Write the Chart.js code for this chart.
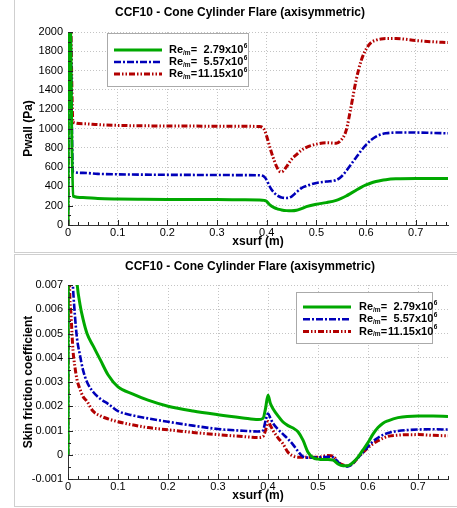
<!DOCTYPE html>
<html>
<head>
<meta charset="utf-8">
<script src="https://cdn.jsdelivr.net/npm/chart.js@4.4.0/dist/chart.umd.min.js"></script>
<style>
  body { margin: 0; background: #fff; overflow: hidden; }
  .frame { position: absolute; left: 14px; width: 470px; border-left: 1px solid #cfcfcf; }
  #f1 { top: 0; height: 252px; border-bottom: 1px solid #cfcfcf; }
  #f2 { top: 254px; height: 251px; border-top: 1px solid #cfcfcf; border-bottom: 1px solid #cfcfcf; }
  canvas { position: absolute; left: 0; }
  #pwall { top: 0; }
  #skin { top: 254px; }
</style>
</head>
<body>
<div class="frame" id="f1"></div>
<div class="frame" id="f2"></div>
<canvas id="pwall" width="500" height="252"></canvas>
<canvas id="skin" width="500" height="252"></canvas>
<script>
// Reynolds numbers per metre (x10^6) for the three runs
const reValues = ['2.79', '5.57', '11.15'];

// Wall pressure (Pa) along the surface
const xPwall = [0, 0.002, 0.01, 0.03, 0.06, 0.1, 0.15, 0.2, 0.25, 0.3, 0.35, 0.385, 0.395, 0.4, 0.405, 0.41, 0.415, 0.42, 0.425, 0.43,
  0.44, 0.45, 0.46, 0.47, 0.48, 0.5, 0.52, 0.54, 0.55, 0.56, 0.57, 0.58, 0.59, 0.6, 0.61, 0.62, 0.63, 0.64, 0.66, 0.7, 0.73, 0.765];
const pwall279 = [0, 3000, 300, 285, 275, 270, 267, 265, 264, 263, 262, 260, 255, 245, 215, 195, 180, 170, 162, 156,
  149, 147, 152, 170, 190, 215, 232, 255, 275, 300, 330, 360, 390, 415, 435, 450, 462, 470, 478, 482, 482, 481];
const pwall557 = [0, 3000, 550, 540, 530, 525, 522, 520, 519, 518, 517, 515, 500, 466, 410, 365, 335, 310, 295, 285,
  280, 295, 340, 383, 405, 436, 450, 466, 500, 560, 630, 700, 770, 830, 880, 915, 938, 950, 958, 958, 955, 950];
const pwall1115 = [0, 3000, 1065, 1050, 1040, 1032, 1028, 1026, 1025, 1024, 1023, 1020, 990, 920, 830, 745, 670, 605, 560, 550,
  605, 680, 730, 775, 805, 838, 852, 848, 880, 980, 1230, 1500, 1700, 1820, 1890, 1915, 1928, 1932, 1932, 1912, 1900, 1890];

// Skin friction coefficient along the surface
const xSkin = [0, 0.001, 0.003, 0.006, 0.008, 0.01, 0.014, 0.018, 0.024, 0.03, 0.038, 0.05, 0.065, 0.08, 0.1, 0.13, 0.16, 0.2,
  0.25, 0.3, 0.35, 0.38, 0.39, 0.395, 0.4, 0.405, 0.41, 0.42, 0.43, 0.44, 0.45, 0.46, 0.47, 0.48, 0.49, 0.5, 0.51, 0.52, 0.53,
  0.54, 0.55, 0.56, 0.57, 0.58, 0.59, 0.6, 0.61, 0.62, 0.63, 0.64, 0.66, 0.7, 0.73, 0.76];
const skin279 = [0, 0.03, 0.02, 0.014, 0.012, 0.0105, 0.0085, 0.0071, 0.0062, 0.0056, 0.005, 0.0045, 0.0039, 0.0033, 0.0028, 0.0025, 0.00225, 0.002,
  0.0018, 0.00165, 0.00152, 0.00145, 0.0015, 0.0019, 0.00245, 0.0021, 0.0019, 0.0016, 0.00135, 0.0012, 0.0011, 0.00095, 0.0006, 0.0001, -0.00012, -0.00018, -0.0002, -0.0002, -0.00022,
  -0.00038, -0.00045, -0.00045, -0.00032, -0.0001, 0.0002, 0.0005, 0.00085, 0.00112, 0.0013, 0.0014, 0.00153, 0.0016, 0.0016, 0.00158];
const skin557 = [0, 0.02, 0.012, 0.0085, 0.0078, 0.0069, 0.0057, 0.0048, 0.0041, 0.0035, 0.003, 0.0026, 0.0023, 0.0021, 0.0018, 0.00162, 0.0015, 0.00136,
  0.0012, 0.00106, 0.00099, 0.00096, 0.001, 0.0014, 0.0017, 0.0015, 0.0013, 0.00105, 0.00085, 0.00065, 0.00042, 0.00014, -0.00008, -0.00012, -0.00012, -0.0001, -0.0001, -0.00008, -0.0001,
  -0.0003, -0.00045, -0.00048, -0.00035, -0.00012, 0.0001, 0.00034, 0.00055, 0.0007, 0.00082, 0.0009, 0.00098, 0.00104, 0.00105, 0.00104];
const skin1115 = [0, 0.012, 0.0072, 0.0058, 0.005, 0.0043, 0.0036, 0.0031, 0.0027, 0.0024, 0.0022, 0.0018, 0.0016, 0.00148, 0.00136, 0.00123, 0.00112, 0.00103,
  0.00092, 0.00083, 0.00075, 0.00071, 0.00075, 0.001, 0.00137, 0.0012, 0.001, 0.0007, 0.00045, 0.0001, -0.00005, -0.0001, -0.0001, -0.0001, -0.0001, -0.0001, -0.00006, -0.00003, -0.00006,
  -0.0003, -0.00042, -0.00046, -0.00035, -0.00012, 0.0001, 0.00029, 0.00045, 0.00058, 0.00068, 0.00076, 0.00081, 0.00083, 0.0008, 0.00078];

const FONT = 'Arial, "Liberation Sans", sans-serif';
const titleText = 'CCF10 - Cone Cylinder Flare (axisymmetric)';

const lineStyles = [
  { borderColor: 'rgb(0,168,0)', borderWidth: 3, borderDash: [] },
  { borderColor: 'rgb(0,0,185)', borderWidth: 2.6, borderDash: [7, 2, 2, 2] },
  { borderColor: 'rgb(178,0,0)', borderWidth: 3, borderDash: [6, 2, 1.5, 2, 1.5, 2] }
];

function makeDatasets(xs, series) {
  return series.map((ys, i) => ({
    label: 'Re/m=' + reValues[i] + 'x10^6',
    data: xs.map((x, k) => ({ x: x, y: ys[k] })),
    ...lineStyles[i],
    pointRadius: 0,
    fill: false,
    cubicInterpolationMode: 'monotone'
  }));
}

// inward major/minor tick marks on the left and bottom axes
const tickMarks = {
  id: 'tickMarks',
  afterDatasetsDraw(chart, args, opts) {
    const { ctx, chartArea, scales: { x, y } } = chart;
    ctx.save();
    ctx.strokeStyle = '#222';
    ctx.lineWidth = 1;
    ctx.beginPath();
    const nx = Math.floor((x.max - x.min) / opts.xMinor + 1e-6);
    for (let i = 0; i <= nx; i++) {
      const px = Math.round(x.getPixelForValue(x.min + i * opts.xMinor)) + 0.5;
      const len = i % opts.xEvery === 0 ? 5 : 3;
      ctx.moveTo(px, chartArea.bottom);
      ctx.lineTo(px, chartArea.bottom - len);
    }
    const ny = Math.round((y.max - y.min) / opts.yMinor);
    for (let i = 0; i <= ny; i++) {
      const py = Math.round(y.getPixelForValue(y.min + i * opts.yMinor)) + 0.5;
      const len = i % opts.yEvery === 0 ? 5 : 3;
      ctx.moveTo(chartArea.left, py);
      ctx.lineTo(chartArea.left + len, py);
    }
    ctx.stroke();
    ctx.restore();
  }
};

// boxed legend with Re sub/superscripts
const reLegend = {
  id: 'reLegend',
  afterDraw(chart, args, opts) {
    const { ctx, chartArea } = chart;
    const big = 'bold 11px ' + FONT, small = 'bold 6.5px ' + FONT;
    const bx = Math.round(chartArea.left + opts.dx), by = Math.round(chartArea.top + opts.dy);
    ctx.save();
    ctx.fillStyle = '#fff';
    ctx.fillRect(bx, by, opts.w, opts.h);
    ctx.strokeStyle = '#aaa';
    ctx.lineWidth = 1;
    ctx.strokeRect(bx + 0.5, by + 0.5, opts.w, opts.h);
    ctx.font = big;
    const wRe = ctx.measureText('Re').width, wEq = ctx.measureText('=').width;
    const wNum = Math.max(...reValues.map(v => ctx.measureText(v + 'x10').width));
    ctx.font = small;
    const wSub = ctx.measureText('/m').width;
    const numEnd = bx + opts.textX + wRe + wSub + wEq + wNum + 1;
    chart.data.datasets.forEach((ds, i) => {
      const ly = by + opts.row0 + i * opts.rowGap;
      ctx.strokeStyle = ds.borderColor;
      ctx.lineWidth = ds.borderWidth;
      ctx.setLineDash(ds.borderDash);
      ctx.beginPath();
      ctx.moveTo(bx + 7, ly);
      ctx.lineTo(bx + 55, ly);
      ctx.stroke();
      ctx.setLineDash([]);
      ctx.fillStyle = '#000';
      ctx.textBaseline = 'middle';
      ctx.textAlign = 'left';
      let tx = bx + opts.textX;
      ctx.font = big;
      ctx.fillText('Re', tx, ly);
      tx += wRe;
      ctx.font = small;
      ctx.fillText('/m', tx, ly + 3);
      tx += wSub;
      ctx.font = big;
      ctx.fillText('=', tx, ly);
      ctx.textAlign = 'right';
      ctx.fillText(reValues[i] + 'x10', numEnd, ly);
      ctx.textAlign = 'left';
      ctx.font = small;
      ctx.fillText('6', numEnd + 0.5, ly - 4);
    });
    ctx.restore();
  }
};

function makeChart(id, datasets, cfg) {
  return new Chart(document.getElementById(id), {
    type: 'line',
    data: { datasets: datasets },
    plugins: [tickMarks, reLegend],
    options: {
      responsive: false,
      animation: false,
      devicePixelRatio: 1,
      layout: { padding: { left: 0, right: cfg.padRight, top: 0, bottom: 0 } },
      plugins: {
        legend: { display: false },
        tooltip: { enabled: false },
        title: {
          display: true,
          text: titleText,
          color: '#000',
          font: { family: FONT, size: 12, weight: 'bold' },
          padding: { top: 5, bottom: cfg.titleBottom }
        },
        tickMarks: cfg.ticks,
        reLegend: cfg.legend
      },
      scales: {
        x: {
          type: 'linear',
          min: 0,
          max: cfg.xMax,
          afterFit: s => { s.height = 27; },
          ticks: { stepSize: 0.1, includeBounds: false, color: '#000', padding: 1, font: { family: FONT, size: 11 } },
          grid: { color: '#c4c4c4', drawTicks: false },
          border: { color: '#333', width: 1, dash: [1, 2] },
          title: { display: true, text: 'xsurf (m)', color: '#000', font: { family: FONT, size: 12, weight: 'bold' }, padding: { top: 0, bottom: 3 } }
        },
        y: {
          type: 'linear',
          min: cfg.yMin,
          max: cfg.yMax,
          afterFit: s => { s.width = 68; },
          ticks: {
            stepSize: cfg.yStep, includeBounds: false, color: '#000', padding: 5,
            font: { family: FONT, size: 11 },
            format: { useGrouping: false, maximumFractionDigits: 3 }
          },
          grid: { color: '#c4c4c4', drawTicks: false },
          border: { color: '#333', width: 1, dash: [1, 2] },
          title: { display: true, text: cfg.yTitle, color: '#000', font: { family: FONT, size: 12, weight: 'bold' }, padding: { top: 21, bottom: 0 } }
        },
        // empty right-hand box, only there to centre the title like the original
        yPad: {
          type: 'linear',
          position: 'right',
          afterFit: s => { s.width = cfg.rightBox; },
          ticks: { display: false },
          grid: { display: false, drawTicks: false },
          border: { display: false }
        }
      }
    }
  });
}

makeChart('pwall', makeDatasets(xPwall, [pwall279, pwall557, pwall1115]), {
  padRight: 20, rightBox: 32, titleBottom: 12.6, xMax: 0.765, yMin: 0, yMax: 2000, yStep: 200, yTitle: 'Pwall (Pa)',
  ticks: { xMinor: 0.02, xEvery: 5, yMinor: 100, yEvery: 2 },
  legend: { dx: 39, dy: 1, w: 141, h: 53, row0: 17, rowGap: 12, textX: 62 }
});

makeChart('skin', makeDatasets(xSkin, [skin279, skin557, skin1115]), {
  padRight: 0, rightBox: 52, titleBottom: 11.6, xMax: 0.76, yMin: -0.001, yMax: 0.007, yStep: 0.001, yTitle: 'Skin friction coefficient',
  ticks: { xMinor: 0.02, xEvery: 5, yMinor: 0.0005, yEvery: 2 },
  legend: { dx: 228, dy: 7, w: 136, h: 51, row0: 15, rowGap: 12.3, textX: 63 }
});
</script>
</body>
</html>
